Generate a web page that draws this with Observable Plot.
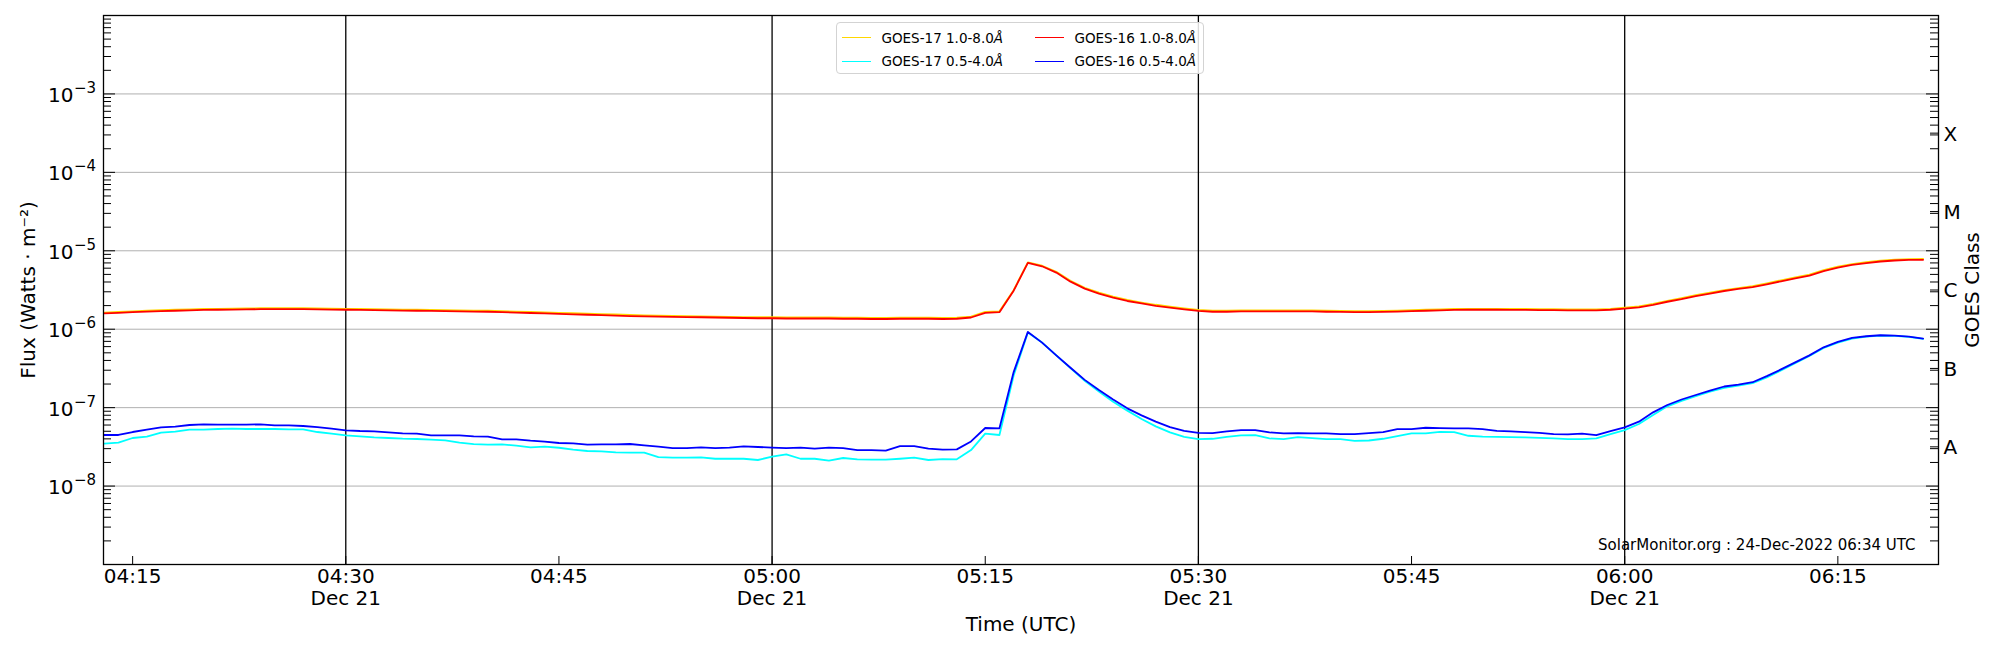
<!DOCTYPE html>
<html>
<head>
<meta charset="utf-8">
<script src="https://cdn.jsdelivr.net/npm/d3@7"></script>
<script src="https://cdn.jsdelivr.net/npm/@observablehq/plot@0.6"></script>
<style>
  html, body { margin: 0; padding: 0; background: #ffffff; }
  #wrap { position: relative; width: 2000px; height: 650px; font-family: "DejaVu Sans", sans-serif; }
  #legend { position: absolute; left: 836px; top: 22px; width: 368px; height: 52px; box-sizing: border-box;
            border: 1px solid #d3d3d3; border-radius: 4px; background: rgba(255,255,255,0.85); }
  .li { position: absolute; height: 16px; line-height: 16px; font-size: 13.5px; color: #000; white-space: nowrap; }
  .sw { position: absolute; width: 29px; height: 0; border-top: 1.6px solid; }
</style>
</head>
<body>
<div id="wrap"></div>
<script>
// ---------------- data ----------------
const startTime = "2022-12-21T04:13:00Z";   // first sample, one sample per minute
const xDomain = ["2022-12-21T04:12:57Z", "2022-12-21T06:22:05Z"];
const yDomain = [1e-9, 1e-2];

const goes17Long = [
1.63e-6,1.66e-6,1.69e-6,1.72e-6,1.75e-6,1.77e-6,1.79e-6,1.81e-6,1.82e-6,1.83e-6,
1.84e-6,1.85e-6,1.85e-6,1.85e-6,1.85e-6,1.84e-6,1.83e-6,1.82e-6,1.81e-6,1.80e-6,
1.79e-6,1.78e-6,1.77e-6,1.76e-6,1.75e-6,1.74e-6,1.73e-6,1.72e-6,1.70e-6,1.68e-6,
1.66e-6,1.64e-6,1.62e-6,1.60e-6,1.58e-6,1.56e-6,1.54e-6,1.52e-6,1.50e-6,1.49e-6,
1.48e-6,1.47e-6,1.46e-6,1.45e-6,1.44e-6,1.43e-6,1.42e-6,1.42e-6,1.41e-6,1.41e-6,
1.41e-6,1.41e-6,1.40e-6,1.40e-6,1.39e-6,1.39e-6,1.40e-6,1.40e-6,1.40e-6,1.39e-6,
1.40e-6,1.45e-6,1.66e-6,1.69e-6,3.15e-6,7.10e-6,6.45e-6,5.40e-6,4.15e-6,3.38e-6,
2.92e-6,2.60e-6,2.36e-6,2.19e-6,2.05e-6,1.94e-6,1.84e-6,1.76e-6,1.72e-6,1.72e-6,
1.74e-6,1.74e-6,1.74e-6,1.74e-6,1.74e-6,1.74e-6,1.72e-6,1.71e-6,1.70e-6,1.70e-6,
1.71e-6,1.73e-6,1.75e-6,1.77e-6,1.79e-6,1.81e-6,1.82e-6,1.82e-6,1.82e-6,1.81e-6,
1.81e-6,1.80e-6,1.80e-6,1.79e-6,1.79e-6,1.79e-6,1.82e-6,1.88e-6,1.96e-6,2.11e-6,
2.30e-6,2.49e-6,2.72e-6,2.93e-6,3.16e-6,3.35e-6,3.55e-6,3.85e-6,4.20e-6,4.58e-6,
4.97e-6,5.65e-6,6.27e-6,6.78e-6,7.14e-6,7.50e-6,7.72e-6,7.85e-6,7.88e-6
];

const goes17Short = [
3.47e-8,3.57e-8,4.10e-8,4.26e-8,4.80e-8,4.94e-8,5.24e-8,5.24e-8,5.34e-8,5.40e-8,
5.34e-8,5.34e-8,5.34e-8,5.29e-8,5.29e-8,4.89e-8,4.66e-8,4.43e-8,4.31e-8,4.18e-8,
4.10e-8,4.02e-8,3.98e-8,3.90e-8,3.83e-8,3.57e-8,3.43e-8,3.37e-8,3.40e-8,3.27e-8,
3.12e-8,3.18e-8,3.08e-8,2.91e-8,2.80e-8,2.77e-8,2.69e-8,2.67e-8,2.67e-8,2.34e-8,
2.30e-8,2.30e-8,2.32e-8,2.23e-8,2.23e-8,2.23e-8,2.15e-8,2.37e-8,2.54e-8,2.23e-8,
2.23e-8,2.11e-8,2.28e-8,2.19e-8,2.17e-8,2.17e-8,2.23e-8,2.30e-8,2.15e-8,2.21e-8,
2.19e-8,2.88e-8,4.66e-8,4.48e-8,2.57e-7,9.06e-7,6.75e-7,4.64e-7,3.19e-7,2.20e-7,
1.60e-7,1.19e-7,9.16e-8,7.16e-8,5.77e-8,4.83e-8,4.25e-8,3.97e-8,4.01e-8,4.25e-8,
4.42e-8,4.46e-8,4.05e-8,3.97e-8,4.21e-8,4.09e-8,3.97e-8,3.97e-8,3.77e-8,3.81e-8,
4.01e-8,4.34e-8,4.69e-8,4.69e-8,4.92e-8,4.87e-8,4.38e-8,4.28e-8,4.25e-8,4.21e-8,
4.17e-8,4.12e-8,4.05e-8,3.97e-8,3.97e-8,4.05e-8,4.60e-8,5.18e-8,6.18e-8,8.06e-8,
1.04e-7,1.22e-7,1.40e-7,1.60e-7,1.79e-7,1.91e-7,2.05e-7,2.43e-7,2.98e-7,3.70e-7,
4.55e-7,5.77e-7,6.75e-7,7.59e-7,8.05e-7,8.30e-7,8.22e-7,7.97e-7,7.51e-7
];

const goes16Long = [
1.59e-6,1.62e-6,1.65e-6,1.68e-6,1.70e-6,1.72e-6,1.74e-6,1.76e-6,1.77e-6,1.78e-6,
1.79e-6,1.80e-6,1.80e-6,1.80e-6,1.80e-6,1.79e-6,1.78e-6,1.77e-6,1.76e-6,1.75e-6,
1.74e-6,1.73e-6,1.72e-6,1.71e-6,1.70e-6,1.69e-6,1.68e-6,1.67e-6,1.65e-6,1.63e-6,
1.61e-6,1.59e-6,1.57e-6,1.55e-6,1.53e-6,1.51e-6,1.49e-6,1.47e-6,1.46e-6,1.45e-6,
1.44e-6,1.43e-6,1.42e-6,1.41e-6,1.40e-6,1.39e-6,1.38e-6,1.38e-6,1.37e-6,1.37e-6,
1.37e-6,1.37e-6,1.36e-6,1.36e-6,1.35e-6,1.35e-6,1.36e-6,1.36e-6,1.36e-6,1.35e-6,
1.36e-6,1.41e-6,1.62e-6,1.65e-6,3.10e-6,7.02e-6,6.35e-6,5.27e-6,4.04e-6,3.29e-6,
2.84e-6,2.52e-6,2.29e-6,2.13e-6,1.99e-6,1.88e-6,1.79e-6,1.71e-6,1.67e-6,1.67e-6,
1.69e-6,1.69e-6,1.69e-6,1.69e-6,1.69e-6,1.69e-6,1.67e-6,1.66e-6,1.65e-6,1.65e-6,
1.66e-6,1.68e-6,1.70e-6,1.72e-6,1.74e-6,1.76e-6,1.77e-6,1.77e-6,1.77e-6,1.76e-6,
1.76e-6,1.75e-6,1.75e-6,1.74e-6,1.74e-6,1.74e-6,1.77e-6,1.83e-6,1.90e-6,2.05e-6,
2.24e-6,2.42e-6,2.65e-6,2.85e-6,3.07e-6,3.26e-6,3.45e-6,3.74e-6,4.08e-6,4.45e-6,
4.83e-6,5.50e-6,6.10e-6,6.60e-6,6.95e-6,7.30e-6,7.52e-6,7.65e-6,7.67e-6
];

const goes16Short = [
4.48e-8,4.48e-8,4.89e-8,5.24e-8,5.61e-8,5.72e-8,6.01e-8,6.12e-8,6.07e-8,6.07e-8,
6.07e-8,6.12e-8,5.95e-8,5.95e-8,5.83e-8,5.66e-8,5.39e-8,5.14e-8,5.04e-8,4.99e-8,
4.84e-8,4.70e-8,4.66e-8,4.43e-8,4.43e-8,4.43e-8,4.31e-8,4.26e-8,3.94e-8,3.94e-8,
3.79e-8,3.68e-8,3.54e-8,3.51e-8,3.37e-8,3.40e-8,3.40e-8,3.44e-8,3.30e-8,3.18e-8,
3.05e-8,3.05e-8,3.12e-8,3.05e-8,3.09e-8,3.21e-8,3.15e-8,3.09e-8,3.05e-8,3.09e-8,
3.00e-8,3.09e-8,3.05e-8,2.88e-8,2.88e-8,2.83e-8,3.24e-8,3.24e-8,3.00e-8,2.91e-8,
2.94e-8,3.71e-8,5.50e-8,5.45e-8,2.84e-7,9.24e-7,6.75e-7,4.64e-7,3.23e-7,2.26e-7,
1.68e-7,1.27e-7,9.80e-8,7.98e-8,6.62e-8,5.65e-8,5.07e-8,4.78e-8,4.73e-8,4.97e-8,
5.17e-8,5.17e-8,4.83e-8,4.69e-8,4.73e-8,4.69e-8,4.69e-8,4.60e-8,4.60e-8,4.73e-8,
4.87e-8,5.33e-8,5.33e-8,5.54e-8,5.49e-8,5.43e-8,5.43e-8,5.33e-8,5.07e-8,4.97e-8,
4.87e-8,4.78e-8,4.60e-8,4.55e-8,4.65e-8,4.46e-8,5.02e-8,5.60e-8,6.62e-8,8.71e-8,
1.08e-7,1.27e-7,1.45e-7,1.65e-7,1.86e-7,1.97e-7,2.11e-7,2.52e-7,3.07e-7,3.78e-7,
4.64e-7,5.88e-7,6.88e-7,7.74e-7,8.13e-7,8.38e-7,8.30e-7,8.05e-7,7.59e-7
];

const seriesNames  = ["GOES-17 1.0-8.0Å", "GOES-17 0.5-4.0Å", "GOES-16 1.0-8.0Å", "GOES-16 0.5-4.0Å"];
const seriesColors = ["#FFD700", "#00FFFF", "#FF0000", "#0000FF"];

const xTickTimes  = ["04:15","04:30","04:45","05:00","05:15","05:30","05:45","06:00","06:15"];
const dayTickTimes = ["04:30","05:00","05:30","06:00"];
const dayLabel = "Dec 21";
const yLabelExponents = [-8, -7, -6, -5, -4, -3];
const classLabels = ["A", "B", "C", "M", "X"];
const classCenterExponents = [-7.5, -6.5, -5.5, -4.5, -3.5];
const footerText = "SolarMonitor.org : 24-Dec-2022 06:34 UTC";

// ---------------- build ----------------
const t0 = new Date(startTime).getTime();
const times = goes16Long.map((_, i) => new Date(t0 + i * 60000));
const allSeries = [goes17Long, goes17Short, goes16Long, goes16Short];
const toDate = (hm) => new Date(`2022-12-21T${hm}:00Z`);
const xTicks = xTickTimes.map(toDate);
const dayTicks = dayTickTimes.map(toDate);
const decades = d3.range(-9, -1).map(e => Math.pow(10, e));            // 1e-9 .. 1e-2
const gridDecades = d3.range(-8, -2).map(e => Math.pow(10, e));        // 1e-8 .. 1e-3
const minors = d3.range(-9, -2).flatMap(e => d3.range(2, 10).map(m => m * Math.pow(10, e)));
const classCenters = classCenterExponents.map(e => Math.pow(10, e));

const W = 2000, H = 650, mL = 103, mR = 62, mT = 15, mB = 86;
const plotW = W - mL - mR, plotH = H - mT - mB;
const FONT = "DejaVu Sans";

const lineMarks = allSeries.map((vals, k) =>
  Plot.line(vals.map((v, i) => ({t: times[i], v})), {x: "t", y: "v", stroke: seriesColors[k], strokeWidth: 1.8})
);

const chart = Plot.plot({
  width: W, height: H,
  marginLeft: mL, marginRight: mR, marginTop: mT, marginBottom: mB,
  style: {fontFamily: FONT, background: "white", overflow: "visible"},
  x: {type: "utc", domain: xDomain.map(d => new Date(d)), axis: null},
  y: {type: "log", domain: yDomain, axis: null},
  marks: [
    Plot.ruleY(gridDecades, {stroke: "#b0b0b0", strokeWidth: 1}),
    Plot.ruleX(dayTicks, {stroke: "black", strokeWidth: 1.3}),
    ...lineMarks,
    Plot.frame({stroke: "black", strokeWidth: 1.3}),
    // x ticks (inward)
    Plot.tickX(xTicks, {x: d => d, insetTop: plotH - 8, stroke: "black", strokeWidth: 1}),
    // left ticks
    Plot.tickY(decades, {y: d => d, insetRight: plotW - 12, stroke: "black", strokeWidth: 1}),
    Plot.tickY(minors, {y: d => d, insetRight: plotW - 8, stroke: "black", strokeWidth: 1}),
    // right ticks
    Plot.tickY(decades, {y: d => d, insetLeft: plotW - 12, stroke: "black", strokeWidth: 1}),
    Plot.tickY(minors, {y: d => d, insetLeft: plotW - 8, stroke: "black", strokeWidth: 1}),
    Plot.tickY(classCenters, {y: d => d, insetLeft: plotW - 8, stroke: "black", strokeWidth: 1}),
    // x tick labels
    Plot.text(xTicks, {x: d => d, text: (d, i) => xTickTimes[i], frameAnchor: "bottom", dy: 18.5, lineAnchor: "bottom",
      textAnchor: "middle", fontSize: 20, fontFamily: FONT, fill: "black"}),
    Plot.text(dayTicks, {x: d => d, text: () => dayLabel, frameAnchor: "bottom", dy: 40.5, lineAnchor: "bottom",
      textAnchor: "middle", fontSize: 20, fontFamily: FONT, fill: "black"}),
    // y tick labels 10^k
    Plot.text(yLabelExponents, {y: e => Math.pow(10, e), text: () => "10", frameAnchor: "left", textAnchor: "end",
      dx: -30, dy: 8, lineAnchor: "bottom", fontSize: 20, fontFamily: FONT, fill: "black"}),
    Plot.text(yLabelExponents, {y: e => Math.pow(10, e), text: e => "\u2212" + Math.abs(e), frameAnchor: "left", textAnchor: "start",
      dx: -29.5, dy: -1, lineAnchor: "bottom", fontSize: 15, fontFamily: FONT, fill: "black"}),
    // GOES class labels
    Plot.text(classCenters, {y: d => d, text: (d, i) => classLabels[i], frameAnchor: "right", textAnchor: "start",
      dx: 5, dy: 1, lineAnchor: "middle", fontSize: 20, fontFamily: FONT, fill: "black"}),
    // axis titles
    Plot.text(["Flux (Watts \u00b7 m\u207b\u00b2)"], {text: d => d, frameAnchor: "left", rotate: -90, dx: -75,
      textAnchor: "middle", lineAnchor: "middle", fontSize: 20, fontFamily: FONT, fill: "black"}),
    Plot.text(["GOES Class"], {text: d => d, frameAnchor: "right", rotate: -90, dx: 34,
      textAnchor: "middle", lineAnchor: "middle", fontSize: 20, fontFamily: FONT, fill: "black"}),
    Plot.text(["Time (UTC)"], {text: d => d, frameAnchor: "bottom", dy: 66, lineAnchor: "bottom",
      textAnchor: "middle", fontSize: 20, fontFamily: FONT, fill: "black"}),
    Plot.text([footerText], {text: d => d, frameAnchor: "bottom-right", dx: -23, dy: -15, textAnchor: "end",
      lineAnchor: "bottom", fontSize: 15, fontFamily: FONT, fill: "black"})
  ]
});

const wrap = document.getElementById("wrap");
wrap.appendChild(chart);

// legend (overlay, matplotlib-style box)
const legend = document.createElement("div");
legend.id = "legend";
const order = [[0, 1], [2, 3]]; // column 1: GOES-17 pair; column 2: GOES-16 pair
const colX = [{sw: 4.5, tx: 44.5}, {sw: 197.5, tx: 237.5}];
const rowY = [14.6, 38.3];
order.forEach((pair, c) => pair.forEach((k, r) => {
  const sw = document.createElement("div");
  sw.className = "sw";
  sw.style.left = colX[c].sw + "px";
  sw.style.top = (rowY[r] - 0.8) + "px";
  sw.style.borderTopColor = seriesColors[k];
  legend.appendChild(sw);
  const tx = document.createElement("div");
  tx.className = "li";
  tx.style.left = colX[c].tx + "px";
  tx.style.top = (rowY[r] - 8) + "px";
  const name = seriesNames[k];
  tx.innerHTML = name.slice(0, -1) + "<i>" + name.slice(-1) + "</i>";
  legend.appendChild(tx);
}));
wrap.appendChild(legend);
</script>
</body>
</html>
